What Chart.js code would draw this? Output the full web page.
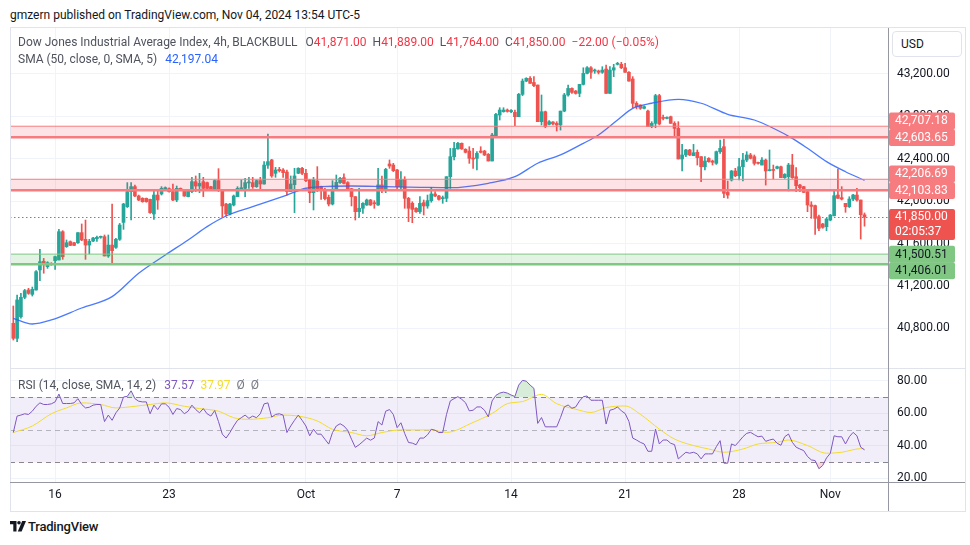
<!DOCTYPE html>
<html lang="en">
<head>
<meta charset="utf-8">
<title>Dow Jones Industrial Average Index, 4h, BLACKBULL</title>
<script src="https://cdn.jsdelivr.net/npm/chart.js@4.4.1/dist/chart.umd.min.js"></script>
<style>
  body { margin:0; width:970px; height:545px; background:#fff; position:relative; overflow:hidden;
         font-family: Roboto, "Noto Sans", sans-serif; color:#131722; }
  canvas { position:absolute; left:10px; }
  .abs { position:absolute; white-space:nowrap; font-size:12px; line-height:16px; }
  .legend { color:#50535E; }
  .legend span { margin-left:6px; }
  .legend span:first-child { margin-left:8px; }
  #frame { position:absolute; left:10px; top:27px; width:956px; height:485px; border:1px solid #E0E3EB;
           box-sizing:border-box; pointer-events:none; }
  .line { position:absolute; pointer-events:none; }
  #usd { position:absolute; left:892px; top:31px; width:70px; height:26px; box-sizing:border-box;
         border:1px solid #E0E3EB; border-radius:4px; font-size:12px; line-height:24px; padding-left:8px; background:#fff; }
</style>
</head>
<body>
<div class="abs" style="left:10px; top:7px; color:#131722;">gmzern published on TradingView.com, Nov 04, 2024 13:54 UTC-5</div>

<canvas id="main" width="955" height="340" style="top:28px"></canvas>
<canvas id="rsi" width="955" height="142" style="top:369px"></canvas>

<div id="frame"></div>
<div class="line" style="left:10px; top:368px; width:955px; height:1px; background:#E0E3EB"></div>
<div class="line" style="left:10px; top:482px; width:955px; height:1px; background:#9598A1"></div>
<div class="line" style="left:888px; top:28px; width:1px; height:483px; background:#9598A1"></div>
<div id="usd">USD</div>

<div id="leg1" class="abs legend" style="left:18px; top:34px;"></div>
<div id="leg2" class="abs legend" style="left:18px; top:51px;"></div>
<div id="leg3" class="abs legend" style="left:18px; top:377px;"></div>

<div class="abs" style="left:10px; top:519px; font-size:13px; color:#131722; font-weight:500; letter-spacing:-0.2px;">
  <svg width="16" height="11" viewBox="0 0 16 11" style="vertical-align:-1px; margin-right:2px">
    <path d="M0 0h6.5v10.5h-3.2V3.2H0z" fill="#131722"/>
    <circle cx="9" cy="1.8" r="1.8" fill="#131722"/>
    <path d="M12.2 0H16l-4.4 10.5H7.8z" fill="#131722"/>
  </svg>TradingView</div>

<script>
// ---- data (4h bars, Sep 12 .. Nov 4, 2024) ----
const dayIdx = [11, 41, 77, 101, 131, 161, 191, 215];
const dayLabels = ['16', '23', 'Oct', '7', '14', '21', '28', 'Nov'];
const priceTicks = [40800, 41200, 41600, 42000, 42400, 42800, 43200];
const rsiTicks = [20, 40, 60, 80];

const open = [
  40848,40706,40910,41093,41162,41121,41162,41351,41433,41382,
  41413,41439,41445,41712,41571,41618,41608,41608,41703,41640,
  41586,41624,41646,41659,41665,41483,41586,41564,41640,41800,
  41948,42090,42137,42049,42027,42027,42017,41879,42058,42068,
  42118,42118,42090,42011,42118,42105,42043,42090,42184,42143,
  42184,42175,42137,42105,42194,42099,41973,41879,41964,42043,
  42112,42121,42172,42175,42137,42194,42162,42339,42389,42263,
  42300,42294,42275,42090,42156,42263,42310,42263,42200,42080,
  42190,42137,42112,42036,41973,42105,42175,42222,42175,42118,
  42043,41901,41933,41964,42011,41986,41964,42153,42105,42351,
  42341,42294,42137,42206,42027,41980,41933,41901,41986,41955,
  42005,42068,42049,42024,42027,42231,42420,42493,42546,42489,
  42473,42404,42404,42473,42473,42442,42379,42608,42813,42844,
  42860,42844,42838,42797,43008,43133,43159,43120,43096,42750,
  42844,42725,42747,42734,42719,42850,43002,43064,43039,43017,
  43102,43206,43259,43228,43228,43216,43247,43017,43237,43291,
  43291,43259,43216,43153,42923,42907,42876,42850,42703,42734,
  42996,42788,42781,42797,42734,42687,42398,42436,42483,42429,
  42461,42420,42325,42404,42379,42357,42467,42514,42083,42200,
  42285,42240,42325,42388,42436,42420,42362,42341,42388,42288,
  42294,42310,42325,42222,42231,42341,42231,42152,42137,42090,
  41964,41958,41854,41785,41759,41822,41862,42058,42033,41980,
  41948,42020,42058,42011,41871
];
const high = [
  41011,41115,41131,41168,41178,41190,41345,41545,41460,41429,
  41420,41483,41734,41722,41634,41625,41612,41703,41785,41822,
  41640,41660,41671,41671,41681,41681,41973,41649,41790,41980,
  42175,42175,42153,42058,42033,42030,42020,42099,42099,42137,
  42135,42125,42162,42143,42125,42110,42110,42225,42238,42263,
  42225,42180,42140,42200,42307,42105,41980,41980,42058,42137,
  42200,42216,42225,42225,42200,42225,42373,42634,42395,42319,
  42319,42307,42294,42238,42310,42316,42320,42300,42206,42225,
  42326,42143,42121,42058,42194,42247,42225,42257,42184,42121,
  42043,42121,41986,42020,42017,42005,42310,42238,42310,42389,
  42357,42300,42279,42231,42036,41995,41940,42043,42011,42058,
  42131,42090,42055,42049,42231,42498,42555,42555,42550,42495,
  42514,42498,42467,42514,42480,42450,42640,42829,42882,42882,
  42870,42865,42860,43017,43153,43165,43175,43175,43096,43002,
  42850,42760,42750,42750,42850,43017,43096,43070,43045,43102,
  43259,43269,43269,43247,43237,43269,43285,43269,43291,43310,
  43310,43300,43222,43175,42939,42910,42900,42860,42750,43008,
  43008,42813,42797,42803,42750,42750,42536,42489,42489,42536,
  42483,42420,42420,42411,42388,42473,42577,42585,42190,42290,
  42310,42404,42451,42467,42451,42436,42370,42411,42398,42483,
  42341,42330,42331,42260,42357,42442,42316,42158,42140,42096,
  41995,41964,41869,41791,41838,41875,42096,42303,42137,41980,
  42042,42064,42121,42011,41889
];
const low = [
  40690,40675,40895,41080,41121,41105,41160,41250,41320,41366,
  41395,41357,41445,41451,41564,41580,41580,41602,41627,41451,
  41502,41618,41621,41650,41483,41470,41420,41555,41630,41734,
  41940,41822,42043,42005,41990,41990,41885,41829,41923,42058,
  42110,42085,42005,41995,42105,42045,42040,42080,42090,42080,
  42043,42115,42105,42100,42090,41848,41860,41870,41955,42043,
  42100,42043,42121,42121,42130,42112,42160,42310,42225,42225,
  42275,42225,42058,42090,41892,42260,42250,42185,41986,41917,
  42090,42017,42011,41955,41964,42099,42168,42162,42105,41955,
  41822,41848,41885,41960,41960,41933,41960,42080,42080,42310,
  42279,42112,42112,41933,41807,41797,41895,41885,41870,41933,
  41990,42043,42010,41980,41995,42121,42389,42490,42489,42455,
  42357,42310,42294,42455,42430,42379,42379,42600,42766,42840,
  42840,42835,42713,42797,42996,43127,43112,43080,42750,42719,
  42693,42720,42720,42662,42671,42844,42990,43017,43010,42986,
  43096,43200,43159,43206,43200,43206,43017,43017,43175,43285,
  43250,43216,43133,42882,42870,42866,42870,42703,42693,42693,
  42719,42766,42775,42734,42608,42398,42285,42420,42430,42429,
  42341,42184,42294,42367,42341,42347,42451,42033,42027,42190,
  42231,42200,42190,42373,42398,42341,42350,42341,42152,42285,
  42209,42305,42222,42215,42096,42215,42090,42090,42080,41901,
  41838,41687,41722,41744,41722,41815,41862,42027,42011,41895,
  41940,42005,42000,41643,41764
];
const close = [
  40706,41068,41093,41156,41130,41168,41335,41429,41401,41420,
  41401,41477,41712,41476,41608,41583,41583,41703,41634,41586,
  41621,41652,41659,41665,41483,41586,41533,41640,41775,41973,
  42090,42137,42049,42011,41995,41995,41892,42058,42011,42121,
  42127,42090,42011,42121,42112,42049,42105,42184,42143,42168,
  42121,42121,42112,42194,42099,41955,41879,41973,42049,42121,
  42127,42175,42178,42137,42194,42162,42341,42373,42238,42294,
  42288,42269,42090,42162,42238,42310,42263,42194,42080,42200,
  42099,42099,42024,41973,42112,42178,42216,42168,42112,42043,
  41901,41933,41980,42011,41964,41976,42153,42105,42300,42332,
  42288,42137,42206,42027,41933,41923,41901,41980,41955,42005,
  42068,42049,42017,42030,42231,42420,42498,42546,42493,42461,
  42404,42398,42451,42461,42436,42379,42624,42819,42860,42860,
  42847,42856,42797,43008,43133,43159,43112,43090,42750,42844,
  42703,42750,42729,42719,42850,43002,43064,43027,43017,43102,
  43206,43259,43216,43237,43216,43237,43017,43237,43259,43300,
  43259,43216,43133,42923,42892,42876,42892,42703,42734,42996,
  42728,42781,42790,42734,42687,42398,42436,42483,42436,42457,
  42411,42325,42379,42373,42367,42467,42498,42074,42058,42285,
  42240,42325,42388,42436,42404,42357,42357,42388,42285,42294,
  42290,42325,42222,42253,42341,42222,42146,42127,42083,41964,
  41951,41838,41744,41753,41832,41869,42052,42027,42020,41948,
  42020,42058,42011,41872,41850
];

// SMA(50) read at a few bars along the line
const smaIdx = [0, 5, 10, 18, 26, 33, 40, 46, 51, 56, 63, 72, 77, 81, 89, 98, 107, 115, 125, 132, 138, 144,
                150, 154, 159, 163, 168, 175, 181, 188, 195, 200, 205, 209, 214, 219, 224];
const smaVal = [40895, 40841, 40879, 40992, 41099, 41320, 41492, 41634, 41760, 41860, 41948, 42058, 42122, 42137,
                42143, 42137, 42131, 42127, 42169, 42231, 42358, 42436, 42546, 42625, 42766, 42876, 42924, 42961,
                42924, 42820, 42766, 42688, 42593, 42499, 42373, 42278, 42197.04];

const rsi = [
  48.2,58.3,58.9,59.7,59.3,61.3,64.3,66.4,65.4,65.4,
  65.8,67.0,71.8,66.0,66.0,66.0,66.4,69.0,65.4,63.3,
  63.7,65.0,65.4,65.4,54.9,58.9,55.7,60.3,63.3,70.0,
  70.4,73.8,69.0,67.4,67.0,67.0,59.7,65.0,62.3,65.8,
  65.8,63.7,59.3,62.9,62.3,59.7,61.3,65.0,62.3,60.3,
  62.9,59.7,58.3,61.7,54.9,47.2,44.8,48.2,52.2,55.7,
  57.3,58.9,56.9,58.3,57.3,59.7,65.8,66.4,57.7,59.3,
  59.7,58.9,48.2,52.2,55.7,58.9,55.7,52.2,46.2,50.2,
  47.2,47.2,44.1,41.1,48.2,52.2,53.6,52.2,49.6,44.1,
  39.1,40.7,42.7,44.8,43.5,44.8,54.9,52.8,61.3,62.3,
  59.3,51.2,54.2,47.6,42.1,41.7,40.7,44.8,44.8,46.8,
  50.2,49.6,48.2,48.2,59.3,
  67.6,69.0,70.2,68.6,66.5,61.5,61.9,63.9,63.9,61.9,
  57.8,67.6,71.0,72.4,73.0,72.4,71.2,70.3,77.3,80.2,
  79.7,77.3,75.3,53.8,57.4,51.7,51.7,51.7,51.7,57.4,
  63.9,65.1,63.1,63.9,67.6,70.2,70.6,68.0,68.0,68.0,
  68.0,53.4,61.9,62.5,63.9,61.5,59.9,55.0,44.8,43.6,
  42.2,41.2,36.7,36.7,50.3,41.2,43.6,43.6,41.6,40.8,
  32.0,34.1,36.1,35.5,36.1,35.1,32.0,35.1,35.1,35.1,
  39.5,43.2,29.4,29.4,41.2,40.2,42.8,45.6,47.7,48.3,
  46.9,45.6,46.0,42.8,43.6,44.2,41.6,40.4,45.6,47.3,
  42.2,39.2,38.1,37.1,33.5,31.4,31.0,26.0,28.0,32.6,
  35.5,46.2,45.6,45.6,41.2,45.6,48.3,46.2,39.2,37.57
];
const rsiMaIdx = [0, 5, 10, 14, 18, 23, 27, 32, 36, 40, 45, 49, 54, 58, 62, 67, 71, 75, 80, 84, 89, 93, 97, 102,
                  106, 110, 114, 121, 126, 130, 134, 139, 143, 148, 152, 156, 161, 165, 170, 174, 179, 183, 187,
                  192, 196, 201, 204, 209, 214, 218, 223, 224];
const rsiMaVal = [48.2, 52.2, 59.7, 63.3, 66.4, 65.4, 63.3, 64.3, 65.4, 66.4, 64.3, 62.9, 61.3, 57.3, 56.3, 57.3,
                  58.9, 58.3, 55.3, 50.2, 48.2, 46.2, 48.2, 49.8, 49.8, 49.8, 48.3, 54.4, 59.9, 65.9, 67.2, 71.6,
                  65.9, 62.5, 60.5, 63.5, 64.5, 59.4, 50.3, 44.2, 40.2, 38.1, 36.1, 38.1, 41.2, 42.2, 43.6, 40.2,
                  35.5, 36.1, 38.3, 37.97];

// drawn price zones
const zoneHigh = [42707.18, 42206.69, 41500.51];
const zoneLow = [42603.65, 42103.83, 41406.01];
const zoneKind = ['res', 'res', 'sup'];
const countdown = '02:05:37';
const rsiBand = [30, 70];
const rsiLevels = [70, 50, 30];

// ---- styles / layout ----
const UP = '#26A69A', DOWN = '#EF5350';
const ZONE = {
  res: { fill: 'rgba(242,54,69,0.14)', line: '#F77C80', tag: '#F77C80', text: '#FFFFFF' },
  sup: { fill: 'rgba(76,175,80,0.16)', line: '#81C784', tag: '#81C784', text: '#131722' }
};
const X_MIN = -0.87, X_MAX = 230.18;
const Y_MIN = 40426, Y_MAX = 43634;
const RSI_MIN = 17.85, RSI_MAX = 87.18;
const AXIS_W = 77;
const GRID = '#F0F3FA';

Chart.defaults.font.family = 'Roboto, "Noto Sans", sans-serif';
Chart.defaults.font.size = 12;
Chart.defaults.color = '#131722';

const n = close.length;
const idx = close.map((_, i) => i);
const candleColor = idx.map(i => close[i] >= open[i] ? UP : DOWN);
const fmt2 = v => v.toLocaleString('en-US', { minimumFractionDigits: 2, maximumFractionDigits: 2 });
const signed = v => (v < 0 ? '\u2212' : '+') + fmt2(Math.abs(v));

// legends
const chg = close[n - 1] - close[n - 2];
const valColor = close[n - 1] >= open[n - 1] ? UP : '#F23645';
const ohlc = [['O', open], ['H', high], ['L', low], ['C', close]]
  .map(([k, arr]) => `<span>${k}<b style="font-weight:400;color:${valColor}">${fmt2(arr[n - 1])}</b></span>`).join('');
document.getElementById('leg1').innerHTML = 'Dow Jones Industrial Average Index, 4h, BLACKBULL' + ohlc +
  `<span style="color:${valColor}">${signed(chg)} (${signed(chg / close[n - 2] * 100)}%)</span>`;
document.getElementById('leg2').innerHTML = 'SMA (50, close, 0, SMA, 5)' +
  `<span style="color:#2962FF">${fmt2(smaVal[smaVal.length - 1])}</span>`;
document.getElementById('leg3').innerHTML = 'RSI (14, close, SMA, 14, 2)' +
  `<span style="color:#7E57C2">${rsi[n - 1].toFixed(2)}</span>` +
  `<span style="color:#F2DC2C">${rsiMaVal[rsiMaVal.length - 1].toFixed(2)}</span>` +
  `<span style="color:#787B86">\u00D8</span><span style="color:#787B86">\u00D8</span>`;

const xScale = (showLabels) => ({
  type: 'linear', min: X_MIN, max: X_MAX, offset: false,
  afterBuildTicks: s => { s.ticks = dayIdx.map(v => ({ value: v })); },
  ticks: {
    display: showLabels, padding: 6, maxRotation: 0, autoSkip: false,
    callback: v => dayLabels[dayIdx.indexOf(v)]
  },
  grid: { color: GRID, drawTicks: false, offset: false },
  border: { display: false },
  afterFit: s => { s.height = showLabels ? 29 : 0; s.paddingLeft = 0; s.paddingRight = 0; }
});

const yAfterFit = s => { s.width = AXIS_W; s.paddingTop = 0; s.paddingBottom = 0; };

// zones, last price line and price tags
const zonePlugin = {
  id: 'zones',
  afterDatasetsDraw(chart) {
    const { ctx, chartArea: a, scales: { y } } = chart;
    ctx.save();
    ctx.beginPath(); ctx.rect(a.left, a.top, a.width, a.height); ctx.clip();
    zoneHigh.forEach((hi, k) => {
      const st = ZONE[zoneKind[k]];
      const t = y.getPixelForValue(hi), b = y.getPixelForValue(zoneLow[k]);
      ctx.fillStyle = st.fill;
      ctx.fillRect(a.left, t, a.width, b - t);
      ctx.strokeStyle = st.line;
      ctx.lineWidth = 1;
      ctx.beginPath(); ctx.moveTo(a.left, t); ctx.lineTo(a.right, t); ctx.stroke();
      ctx.lineWidth = 2.5;
      ctx.beginPath(); ctx.moveTo(a.left, b); ctx.lineTo(a.right, b); ctx.stroke();
    });
    const py = Math.round(y.getPixelForValue(close[n - 1])) + 0.5;
    ctx.strokeStyle = DOWN; ctx.lineWidth = 1; ctx.setLineDash([1.5, 2.5]);
    ctx.beginPath(); ctx.moveTo(a.left, py); ctx.lineTo(a.right, py); ctx.stroke();
    ctx.restore();
  },
  afterDraw(chart) {
    const { ctx, chartArea: a, scales: { y } } = chart;
    const H = 16.5, x0 = a.right + 1, w = 66;
    const last = close[n - 1];
    const lastTop = y.getPixelForValue(last) - 8, lastBot = lastTop + 31;
    const tags = [];
    zoneHigh.forEach((hi, k) => {
      [hi, zoneLow[k]].forEach(v => tags.push({ v, st: ZONE[zoneKind[k]] }));
    });
    const above = tags.filter(t => t.v > last).sort((p, q) => p.v - q.v);
    const below = tags.filter(t => t.v < last).sort((p, q) => q.v - p.v);
    let edge = lastTop;
    above.forEach(t => { t.c = Math.min(y.getPixelForValue(t.v), edge - H / 2); edge = t.c - H / 2; });
    edge = lastBot;
    below.forEach(t => { t.c = Math.max(y.getPixelForValue(t.v), edge + H / 2); edge = t.c + H / 2; });
    ctx.save();
    ctx.font = '12px Roboto, "Noto Sans", sans-serif';
    ctx.textBaseline = 'middle';
    const box = (top, h, bg) => {
      ctx.fillStyle = bg;
      ctx.beginPath(); ctx.roundRect(x0, top, w, h, 2); ctx.fill();
    };
    [...above, ...below].forEach(t => box(t.c - H / 2, H + 0.5, t.st.tag));
    box(lastTop, 31, DOWN);
    [...above, ...below].forEach(t => {
      ctx.fillStyle = t.st.text;
      ctx.fillText(fmt2(t.v), x0 + 6, t.c + 0.5);
    });
    ctx.fillStyle = '#FFFFFF';
    ctx.fillText(fmt2(last), x0 + 6, lastTop + 8);
    ctx.fillText(countdown, x0 + 6, lastTop + 22.5);
    ctx.restore();
  }
};

new Chart(document.getElementById('main'), {
  type: 'bar',
  data: {
    datasets: [
      { type: 'line', data: smaIdx.map((x, k) => ({ x, y: smaVal[k] })), borderColor: 'rgba(41,98,255,0.85)',
        borderWidth: 1.3, pointRadius: 0, cubicInterpolationMode: 'monotone', order: 0 },
      { type: 'bar', data: idx.map(i => ({ x: i, y: [open[i], close[i]] })), backgroundColor: candleColor,
        barThickness: 3, minBarLength: 1, grouped: false, borderWidth: 0, order: 1 },
      { type: 'bar', data: idx.map(i => ({ x: i, y: [low[i], high[i]] })), backgroundColor: candleColor,
        barThickness: 1, grouped: false, borderWidth: 0, order: 2 }
    ]
  },
  options: {
    responsive: false, animation: false, events: [],
    layout: { padding: 0 },
    plugins: { legend: { display: false }, tooltip: { enabled: false } },
    scales: {
      x: xScale(false),
      y: {
        position: 'right', min: Y_MIN, max: Y_MAX,
        afterBuildTicks: s => { s.ticks = priceTicks.map(v => ({ value: v })); },
        ticks: { padding: 9, callback: v => fmt2(v) },
        grid: { color: GRID, drawTicks: false },
        border: { display: false },
        afterFit: yAfterFit
      }
    }
  },
  plugins: [zonePlugin]
});

// RSI pane: band and dashed levels
const rsiPlugin = {
  id: 'rsiBand',
  beforeDatasetsDraw(chart) {
    const { ctx, chartArea: a, scales: { y } } = chart;
    ctx.save();
    const t = y.getPixelForValue(rsiBand[1]), b = y.getPixelForValue(rsiBand[0]);
    ctx.fillStyle = 'rgba(126,87,194,0.1)';
    ctx.fillRect(a.left, t, a.width, b - t);
    ctx.lineWidth = 1;
    ctx.setLineDash([5, 4]);
    rsiLevels.forEach(v => {
      const py = Math.round(y.getPixelForValue(v)) + 0.5;
      ctx.strokeStyle = v === 50 ? 'rgba(120,123,134,0.5)' : 'rgba(120,123,134,0.9)';
      ctx.beginPath(); ctx.moveTo(a.left, py); ctx.lineTo(a.right, py); ctx.stroke();
    });
    ctx.restore();
  }
};

const rsiPts = idx.map(i => ({ x: i, y: rsi[i] }));
new Chart(document.getElementById('rsi'), {
  type: 'line',
  data: {
    datasets: [
      { data: rsiPts, borderColor: '#7E57C2', borderWidth: 1, pointRadius: 0,
        fill: { target: { value: rsiBand[1] }, above: 'rgba(76,175,80,0.22)', below: 'rgba(0,0,0,0)' } },
      { data: rsiPts, borderColor: 'rgba(0,0,0,0)', borderWidth: 0, pointRadius: 0,
        fill: { target: { value: rsiBand[0] }, above: 'rgba(0,0,0,0)', below: 'rgba(242,54,69,0.2)' } },
      { data: rsiMaIdx.map((x, k) => ({ x, y: rsiMaVal[k] })), borderColor: '#F2DC2C', borderWidth: 1,
        pointRadius: 0, cubicInterpolationMode: 'monotone', fill: false }
    ]
  },
  options: {
    responsive: false, animation: false, events: [],
    layout: { padding: 0 },
    plugins: { legend: { display: false }, tooltip: { enabled: false } },
    scales: {
      x: xScale(true),
      y: {
        position: 'right', min: RSI_MIN, max: RSI_MAX,
        afterBuildTicks: s => { s.ticks = rsiTicks.map(v => ({ value: v })); },
        ticks: { padding: 9, callback: v => v.toFixed(2) },
        grid: { color: GRID, drawTicks: false },
        border: { display: false },
        afterFit: yAfterFit
      }
    }
  },
  plugins: [rsiPlugin]
});
</script>
</body>
</html>
